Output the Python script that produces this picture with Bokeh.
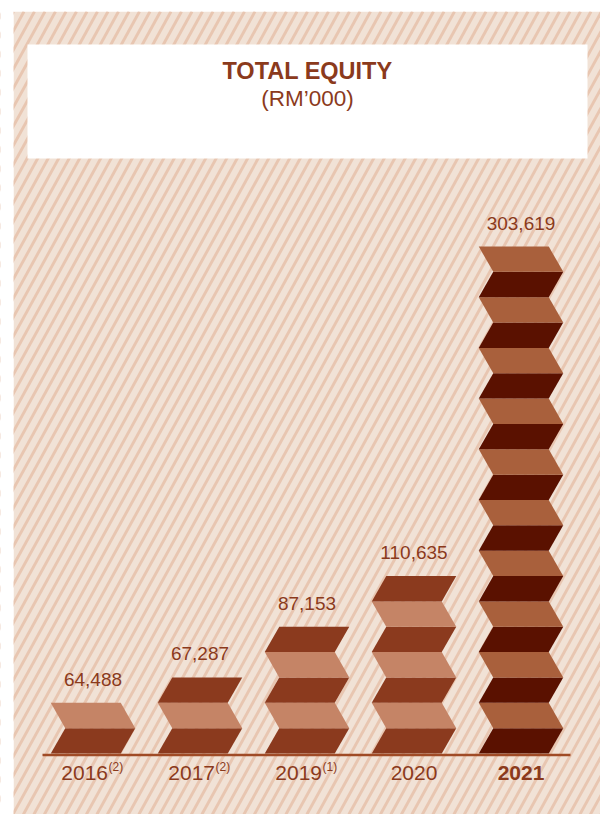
from bokeh.plotting import figure
from bokeh.models import Range1d
from bokeh.core.properties import value
from bokeh.embed import file_html
from bokeh.resources import INLINE

# ---- data -------------------------------------------------------------
years = ["2016", "2017", "2019", "2020", "2021"]
notes = ["(2)", "(2)", "(1)", "", ""]
equity = [64488, 67287, 87153, 110635, 303619]   # RM'000
blocks = [2, 3, 5, 7, 20]                          # stacked chevron units per bar

# ---- palette ----------------------------------------------------------
BG = "#f1e2d6"
STRIPE = "#e8c6b1"
BROWN = "#8b3a1c"
AXIS = "#a04b26"
DARK = "#8b3a1e"
LIGHT = "#c58466"
DARK_HL = "#5a1100"
LIGHT_HL = "#a9603c"
FONT = value("Liberation Sans")

W, H = 600, 814
p = figure(width=W, height=H, x_range=Range1d(0, W), y_range=Range1d(H, 0),
           output_backend="svg", toolbar_location=None, min_border=0)
p.axis.visible = False
p.grid.visible = False
p.outline_line_color = None
p.background_fill_color = "white"
p.border_fill_color = "white"

# ---- striped panel ----------------------------------------------------
PX0, PY0 = 13, 11
p.quad(left=PX0, right=W, top=PY0, bottom=H, fill_color=BG, line_color=None)
k = 0.55        # horizontal run per unit of height
period = 10.5
x0s, y0s, x1s, y1s = [], [], [], []
c = PX0 - k * (H - PY0) - period
while c < W + period:
    x0s.append(c); y0s.append(H)
    x1s.append(c + k * (H - PY0)); y1s.append(PY0)
    c += period
p.segment(x0=x0s, y0=y0s, x1=x1s, y1=y1s, line_color=STRIPE, line_width=2.9)
# mask stripes outside the panel
p.quad(left=0, right=PX0, top=0, bottom=H, fill_color="white", line_color=None)
p.quad(left=0, right=W, top=0, bottom=PY0, fill_color="white", line_color=None)

# ---- title box ---------------------------------------------------------
p.quad(left=27, right=587, top=44, bottom=158, fill_color="white", line_color=None)
p.text(x=[307], y=[70.5], text=["TOTAL EQUITY"], text_align="center",
       text_baseline="alphabetic", text_font=FONT, text_font_size="23.5px",
       text_font_style="bold", text_color=BROWN)
p.text(x=[307], y=[97.5], text=["(RM\u2019000)"], text_align="center",
       text_baseline="alphabetic", text_font=FONT, text_font_size="22.5px",
       text_color=BROWN)

# ---- chevron bars --------------------------------------------------------
BASE_Y = 753
SEG_H = 25.35
BODY_W = 70
SHIFT = 14.5
CX0, STEP = 92.5, 107

xs, ys, colors = [], [], []
tops, centers = [], []
for i, n in enumerate(blocks):
    cx = CX0 + i * STEP
    left = cx - (BODY_W + SHIFT) / 2
    hl = years[i] == "2021"
    for s in range(n):
        yb = BASE_Y - s * SEG_H
        yt = yb - SEG_H
        if s % 2 == 0:
            px = [left, left + BODY_W, left + BODY_W + SHIFT, left + SHIFT]
        else:
            px = [left + SHIFT, left + BODY_W + SHIFT, left + BODY_W, left]
        xs.append(px)
        ys.append([yb, yb, yt, yt])
        if s % 2 == 0:
            colors.append(DARK_HL if hl else DARK)
        else:
            colors.append(LIGHT_HL if hl else LIGHT)
    tops.append(BASE_Y - n * SEG_H)
    centers.append(cx)

p.patches(xs=xs, ys=ys, fill_color=colors, line_color=None)

# baseline
p.segment(x0=[42], y0=[754.5], x1=[570], y1=[754.5], line_color=AXIS, line_width=2.5)

# value labels
p.text(x=centers, y=[t - 23.5 for t in tops], text=[f"{v:,}" for v in equity],
       text_align="center", text_baseline="alphabetic", text_font=FONT,
       text_font_size="19px", text_color=BROWN)

# year labels with footnote markers
for cx, yr, nt in zip(centers, years, notes):
    bold = yr == "2021"
    if nt:
        p.text(x=[cx + 15], y=[772.5], text=[yr], text_align="right",
               text_baseline="alphabetic", text_font=FONT, text_font_size="21px",
               text_color=BROWN)
        p.text(x=[cx + 15.5], y=[766], text=[nt], text_align="left",
               text_baseline="alphabetic", text_font=FONT, text_font_size="12px",
               text_color=BROWN)
    else:
        p.text(x=[cx], y=[772.5], text=[yr], text_align="center",
               text_baseline="alphabetic", text_font=FONT, text_font_size="21px",
               text_font_style="bold" if bold else "normal", text_color=BROWN)

open("out.html", "w").write(file_html(p, INLINE))
